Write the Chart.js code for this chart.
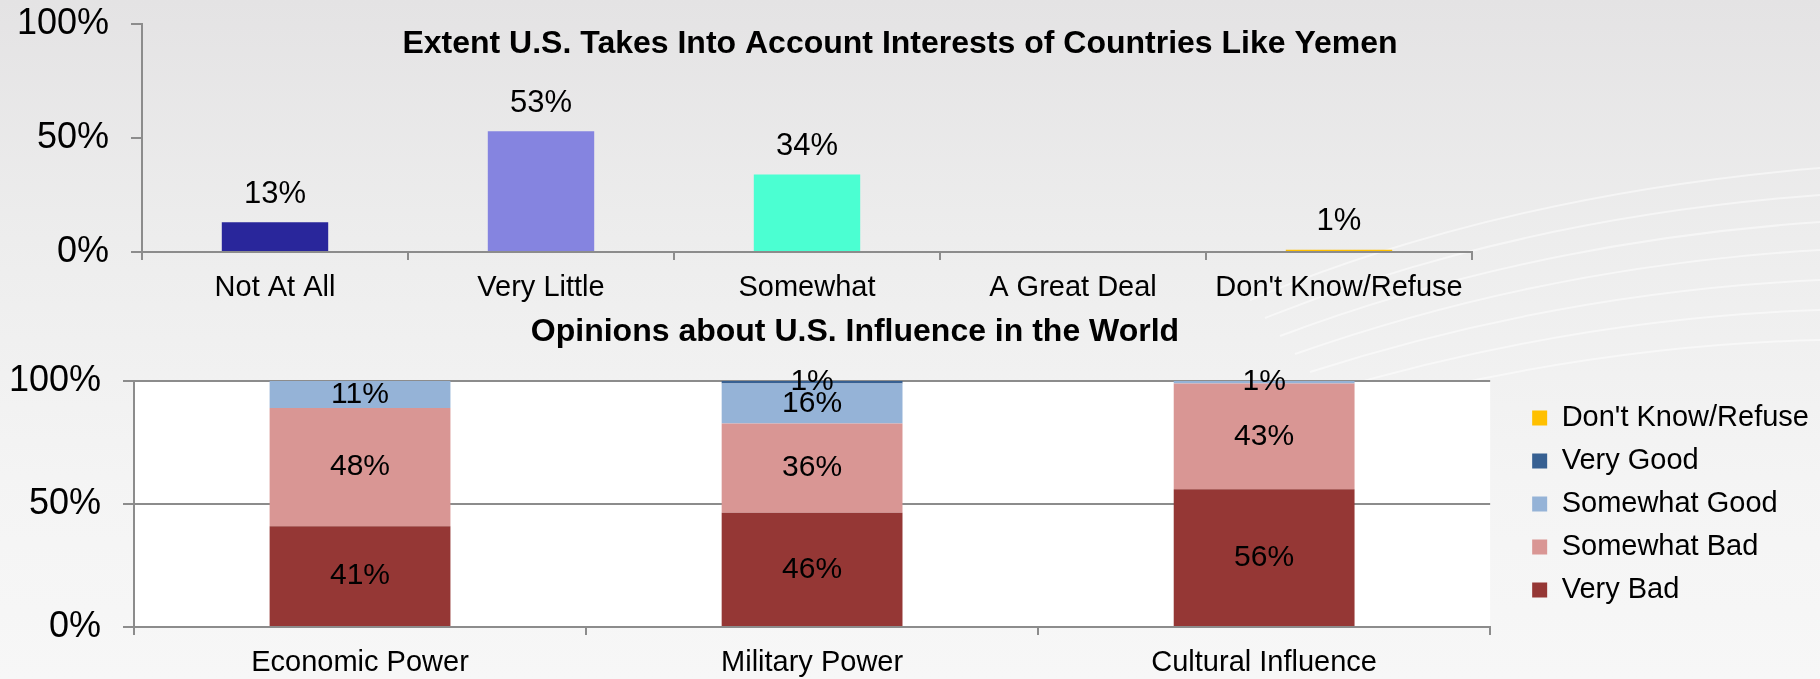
<!DOCTYPE html>
<html>
<head>
<meta charset="utf-8">
<script src="https://cdn.jsdelivr.net/npm/chart.js@4.4.1/dist/chart.umd.min.js"></script>
<style>
html, body { margin: 0; padding: 0; }
body {
  width: 1820px; height: 679px; overflow: hidden; position: relative;
  background: linear-gradient(180deg, #e4e3e4 0%, #ededed 35%, #f4f4f4 70%, #f7f7f7 100%);
  font-family: Arial, "Liberation Sans", sans-serif;
}
#swoosh { position: absolute; left: 0; top: 0; width: 1820px; height: 679px; }
#topBox { position: absolute; left: 0; top: 0; width: 1820px; height: 320px; }
#bottomBox { position: absolute; left: 0; top: 300px; width: 1820px; height: 379px; }
</style>
</head>
<body>
<svg id="swoosh" viewBox="0 0 1820 679" fill="none" stroke="#ffffff" stroke-width="2" stroke-opacity="0.5">
  <path d="M1250 300 Q1500 195 1820 168"/>
  <path d="M1265 318 Q1515 218 1820 195"/>
  <path d="M1280 336 Q1530 242 1820 222"/>
  <path d="M1295 354 Q1545 266 1820 250"/>
  <path d="M1310 372 Q1560 292 1820 280"/>
  <path d="M1325 392 Q1575 318 1820 310"/>
  <path d="M1340 412 Q1590 345 1820 340"/>
</svg>
<div id="topBox"><canvas id="extentChart"></canvas></div>
<div id="bottomBox"><canvas id="influenceChart"></canvas></div>
<script>
// Extent U.S. takes into account interests of countries like Yemen
const extentCategories = ["Not At All", "Very Little", "Somewhat", "A Great Deal", "Don't Know/Refuse"];
const extentValues = [13, 53, 34, 0, 1];
const extentColors = ["#29269b", "#8584e0", "#4bffd2", "#4bffd2", "#ffc000"];

// Opinions about U.S. influence in the world
const influenceCategories = ["Economic Power", "Military Power", "Cultural Influence"];
const veryBad = [41, 46.4, 56];
const somewhatBad = [48, 36.3, 43];
const somewhatGood = [11, 16.3, 1];
const veryGood = [0, 1, 0];
const dontKnow = [0, 0, 0];

const percentTicks = [0, 50, 100];

const FONT = 'Arial, "Liberation Sans", sans-serif';
const AXIS_GREY = "#8c8c8c";

// title drawn inside the canvas (the reference puts it over the plot)
const panelTitle = {
  id: "panelTitle",
  afterDraw(chart, args, opts) {
    const ctx = chart.ctx;
    ctx.save();
    ctx.font = "bold 32px " + FONT;
    ctx.fillStyle = "#000";
    ctx.textAlign = "center";
    ctx.textBaseline = "middle";
    ctx.fillText(opts.text, opts.x, opts.y);
    ctx.restore();
  }
};

// percent labels on the bars
const valueLabels = {
  id: "valueLabels",
  afterDatasetsDraw(chart, args, opts) {
    const ctx = chart.ctx;
    ctx.save();
    ctx.font = opts.size + "px " + FONT;
    ctx.fillStyle = "#000";
    ctx.textAlign = "center";
    ctx.textBaseline = "middle";
    chart.data.datasets.forEach((ds, i) => {
      chart.getDatasetMeta(i).data.forEach((bar, j) => {
        const v = ds.data[j];
        if (!v) return;
        const txt = Math.round(v) + "%";
        if (opts.inside) ctx.fillText(txt, bar.x, (bar.y + bar.base) / 2);
        else ctx.fillText(txt, bar.x, bar.y - opts.offset);
      });
    });
    ctx.restore();
  }
};

// white plot background for the lower chart
const plotFill = {
  id: "plotFill",
  beforeDraw(chart, args, opts) {
    const a = chart.chartArea;
    chart.ctx.save();
    chart.ctx.fillStyle = opts.color;
    chart.ctx.fillRect(a.left, a.top, a.right - a.left, a.bottom - a.top);
    chart.ctx.restore();
  }
};

// nudge the legend away from the plot
const legendShift = {
  id: "legendShift",
  afterLayout(chart, args, opts) {
    chart.legend.left += opts.dx;
    chart.legend.right += opts.dx;
  }
};

const pctTick = v => v + "%";

new Chart(document.getElementById("extentChart"), {
  type: "bar",
  data: {
    labels: extentCategories,
    datasets: [{
      data: extentValues,
      backgroundColor: extentColors,
      categoryPercentage: 1,
      barPercentage: 0.4
    }]
  },
  options: {
    responsive: true,
    maintainAspectRatio: false,
    animation: false,
    layout: { padding: { left: 0, top: 24, right: 348, bottom: 0 } },
    plugins: {
      legend: { display: false },
      tooltip: { enabled: false },
      panelTitle: { text: "Extent U.S. Takes Into Account Interests of Countries Like Yemen", x: 900, y: 44 },
      valueLabels: { size: 31, offset: 28 }
    },
    scales: {
      x: {
        grid: { drawOnChartArea: false, tickLength: 8, color: AXIS_GREY, lineWidth: 2 },
        border: { color: AXIS_GREY, width: 2 },
        ticks: { color: "#000", font: { size: 29, family: FONT }, padding: 11, maxRotation: 0, autoSkip: false },
        afterFit(s) { s.height = 68; }
      },
      y: {
        min: 0, max: 100,
        afterBuildTicks(s) { s.ticks = percentTicks.map(v => ({ value: v })); },
        ticks: { callback: pctTick, color: "#000", font: { size: 36, family: FONT }, padding: 22 },
        grid: { drawOnChartArea: false, tickLength: 11, color: AXIS_GREY, lineWidth: 2 },
        border: { color: AXIS_GREY, width: 2 },
        afterFit(s) { s.width = 142; s.paddingTop = 0; s.paddingBottom = 0; }
      }
    }
  },
  plugins: [panelTitle, valueLabels]
});

const stackSeries = [
  { label: "Very Bad", data: veryBad, color: "#953735" },
  { label: "Somewhat Bad", data: somewhatBad, color: "#d99694" },
  { label: "Somewhat Good", data: somewhatGood, color: "#95b3d7" },
  { label: "Very Good", data: veryGood, color: "#376092" },
  { label: "Don't Know/Refuse", data: dontKnow, color: "#ffc000" }
];

new Chart(document.getElementById("influenceChart"), {
  type: "bar",
  data: {
    labels: influenceCategories,
    datasets: stackSeries.map(s => ({
      label: s.label,
      data: s.data,
      backgroundColor: s.color,
      categoryPercentage: 1,
      barPercentage: 0.4
    }))
  },
  options: {
    responsive: true,
    maintainAspectRatio: false,
    animation: false,
    layout: { padding: { left: 0, top: 81, right: 29, bottom: 0 } },
    plugins: {
      legend: {
        position: "right",
        fullSize: false,
        reverse: true,
        labels: { boxWidth: 15, boxHeight: 15, padding: 14, color: "#000", font: { size: 29, family: FONT } }
      },
      tooltip: { enabled: false },
      panelTitle: { text: "Opinions about U.S. Influence in the World", x: 855, y: 32 },
      valueLabels: { size: 30, inside: true },
      plotFill: { color: "#ffffff" },
      legendShift: { dx: 28 }
    },
    scales: {
      x: {
        stacked: true,
        grid: { drawOnChartArea: false, tickLength: 8, color: AXIS_GREY, lineWidth: 2 },
        border: { color: AXIS_GREY, width: 2 },
        ticks: { color: "#000", font: { size: 29, family: FONT }, padding: 11, maxRotation: 0, autoSkip: false },
        afterFit(s) { s.height = 52; }
      },
      y: {
        stacked: true,
        min: 0, max: 100,
        afterBuildTicks(s) { s.ticks = percentTicks.map(v => ({ value: v })); },
        ticks: { callback: pctTick, color: "#000", font: { size: 36, family: FONT }, padding: 22 },
        grid: { tickLength: 11, color: AXIS_GREY, lineWidth: 2 },
        border: { color: AXIS_GREY, width: 2 },
        afterFit(s) { s.width = 134; s.paddingTop = 0; s.paddingBottom = 0; }
      }
    }
  },
  plugins: [plotFill, panelTitle, valueLabels, legendShift]
});
</script>
</body>
</html>
